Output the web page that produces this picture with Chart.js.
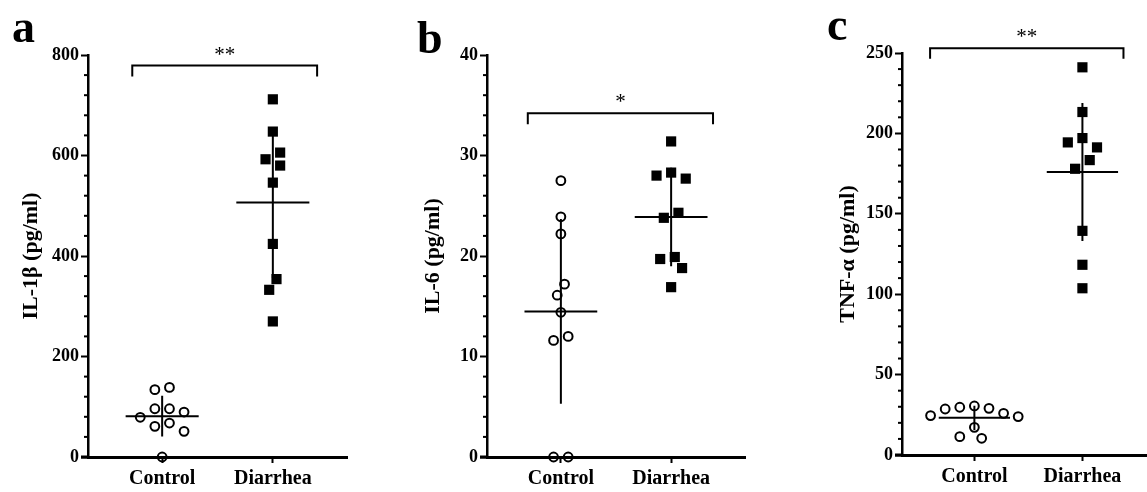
<!DOCTYPE html>
<html lang="en">
<head>
<meta charset="UTF-8">
<title>IL-1β, IL-6 and TNF-α</title>
<script src="https://cdn.jsdelivr.net/npm/chart.js"></script>
<style>
  html, body { margin: 0; padding: 0; background: #fff; }
  body { width: 1147px; height: 492px; position: relative; overflow: hidden; font-family: "Liberation Serif", "Times New Roman", serif; }
  .panel { position: absolute; top: 0; height: 492px; }
  .letter { position: absolute; font-weight: bold; font-size: 46px; line-height: 1; color: #000; }
</style>
</head>
<body>
<div class="panel" style="left:0"><canvas id="chartA" width="380" height="492"></canvas></div>
<div class="panel" style="left:380px"><canvas id="chartB" width="380" height="492"></canvas></div>
<div class="panel" style="left:760px"><canvas id="chartC" width="402" height="492"></canvas></div>
<div class="letter" style="left:12px;top:4px">a</div>
<div class="letter" style="left:417px;top:15px">b</div>
<div class="letter" style="left:827px;top:2px">c</div>

<script>
// groups on the x axis
const categories = ['Control', 'Diarrhea'];

// IL-1β (pg/ml)
const il1bControl  = [138.5, 134, 96, 96, 89.5, 79, 67.6, 61, 51, 0];
const il1bDiarrhea = [711.8, 647.6, 605.8, 592.5, 580, 546, 424, 354, 332.7, 269.8];

// IL-6 (pg/ml)
const il6Control  = [27.5, 23.9, 22.2, 17.2, 16.1, 14.4, 12.0, 11.6, 0, 0];
const il6Diarrhea = [31.4, 28.3, 28.0, 27.7, 24.3, 23.8, 19.9, 19.7, 18.8, 16.9];

// TNF-α (pg/ml)
const tnfControl  = [30.5, 29.7, 29.0, 28.6, 25.9, 24.5, 23.9, 17.2, 11.4, 10.4];
const tnfDiarrhea = [241.1, 213.3, 197.1, 194.4, 191.3, 183.4, 178.0, 139.4, 118.3, 103.7];

// y axis ranges / tick steps
const yMaxes     = [800, 40, 250];
const majorSteps = [200, 10, 50];
const minorSteps = [40, 2, 10];
const yTitles    = ['IL-1β (pg/ml)', 'IL-6 (pg/ml)', 'TNF-α (pg/ml)'];

// significance brackets: [x start, x end, bar level, leg end], label
const brackets = [
  { x0: 0.73, x1: 2.40, y: 779, yEnd: 757, text: '**' },
  { x0: 0.70, x1: 2.38, y: 34.2, yEnd: 33.1, text: '*' },
  { x0: 0.59, x1: 2.38, y: 253, yEnd: 246.5, text: '**' }
];

const X_MIN = 0.33, X_MAX = 2.67;
const HALF_STEP = 7.3;   // px, horizontal step of the dot spread
const MIN_GAP = 12.5;    // px, min distance between dot centres

const tickFont = { family: 'Liberation Serif', size: 18, weight: 'bold' };
const titleFont = { family: 'Liberation Serif', size: 22, weight: 'bold' };
const catFont = { family: 'Liberation Serif', size: 20, weight: 'bold' };

function mean(a) { return a.reduce((s, v) => s + v, 0) / a.length; }
function sd(a) {
  const m = mean(a);
  return Math.sqrt(a.reduce((s, v) => s + (v - m) * (v - m), 0) / (a.length - 1));
}

const decorations = {
  id: 'decorations',
  afterDraw(chart) {
    const { ctx, chartArea } = chart;
    const xs = chart.scales.x, ys = chart.scales.y;
    const spec = chart.options.plugins.decorations;
    ctx.save();
    ctx.strokeStyle = '#000';
    ctx.lineCap = 'butt';

    // minor ticks on y
    ctx.lineWidth = 2;
    const n = Math.round(spec.yMax / spec.minor);
    const every = Math.round(spec.major / spec.minor);
    for (let i = 0; i <= n; i++) {
      if (i % every === 0) continue;
      const py = ys.getPixelForValue(i * spec.minor);
      ctx.beginPath();
      ctx.moveTo(chartArea.left - 4, py);
      ctx.lineTo(chartArea.left, py);
      ctx.stroke();
    }

    // x axis stub left of y axis
    ctx.lineWidth = 3;
    ctx.beginPath();
    ctx.moveTo(chartArea.left - 7, chartArea.bottom);
    ctx.lineTo(chartArea.left + 1, chartArea.bottom);
    ctx.stroke();

    // mean ± SD
    ctx.lineWidth = 2;
    chart.data.datasets.forEach((ds, gi) => {
      const m = mean(ds.values), s = sd(ds.values);
      const cx = xs.getPixelForValue(gi + 1);
      ctx.beginPath();
      ctx.moveTo(xs.getPixelForValue(gi + 1 - 0.33), ys.getPixelForValue(m));
      ctx.lineTo(xs.getPixelForValue(gi + 1 + 0.33), ys.getPixelForValue(m));
      ctx.moveTo(cx, ys.getPixelForValue(Math.max(0, m - s)));
      ctx.lineTo(cx, ys.getPixelForValue(m + s));
      ctx.stroke();
    });

    // bracket + stars
    const b = spec.bracket;
    const bx0 = xs.getPixelForValue(b.x0), bx1 = xs.getPixelForValue(b.x1);
    const by = ys.getPixelForValue(b.y), byEnd = ys.getPixelForValue(b.yEnd);
    ctx.lineWidth = 2;
    ctx.beginPath();
    ctx.moveTo(bx0, byEnd);
    ctx.lineTo(bx0, by);
    ctx.lineTo(bx1, by);
    ctx.lineTo(bx1, byEnd);
    ctx.stroke();
    ctx.fillStyle = '#000';
    ctx.font = '21px "Liberation Serif"';
    ctx.textAlign = 'center';
    ctx.textBaseline = 'alphabetic';
    ctx.fillText(b.text, (bx0 + bx1) / 2, by - 5);
    ctx.restore();
  }
};

// sideways spread of overlapping dots, worked out in pixels from the chart's scales
function spread(vals, ys) {
  const order = vals.map((v, i) => i).sort((a, b) => vals[b] - vals[a]);
  const py = vals.map(v => ys.getPixelForValue(v));
  const offs = [];
  const placed = [];
  order.forEach(i => {
    for (let c = 0; c < 80; c++) {
      const dx = Math.ceil(c / 2) * (c % 2 ? -1 : 1) * HALF_STEP;
      if (placed.every(j => Math.hypot(offs[j] - dx, py[j] - py[i]) >= MIN_GAP)) {
        offs[i] = dx;
        placed.push(i);
        break;
      }
    }
  });
  // centre every cluster of vertically touching dots on the group line
  let start = 0;
  for (let k = 1; k <= order.length; k++) {
    if (k === order.length || py[order[k]] - py[order[k - 1]] >= MIN_GAP) {
      const grp = order.slice(start, k);
      const lo = Math.min(...grp.map(i => offs[i])), hi = Math.max(...grp.map(i => offs[i]));
      grp.forEach(i => { offs[i] -= (lo + hi) / 2; });
      start = k;
    }
  }
  return offs;
}

function makePanel(id, k, control, diarrhea, lay) {
  const chart = new Chart(document.getElementById(id), {
    type: 'scatter',
    data: {
      datasets: [
        {
          label: categories[0], values: control,
          data: control.map(v => ({ x: 1, y: v })),
          pointStyle: 'circle', pointRadius: 4.4, pointBorderWidth: 2,
          pointBackgroundColor: 'rgba(0,0,0,0)', pointBorderColor: '#000', clip: false
        },
        {
          label: categories[1], values: diarrhea,
          data: diarrhea.map(v => ({ x: 2, y: v })),
          pointStyle: 'rect', pointRadius: 7.2, pointBorderWidth: 0,
          pointBackgroundColor: '#000', pointBorderColor: '#000', clip: false
        }
      ]
    },
    options: {
      responsive: false,
      animation: false,
      events: [],
      layout: { padding: { left: 0, right: lay.padRight, top: lay.padTop, bottom: 0 } },
      plugins: {
        legend: { display: false },
        tooltip: { enabled: false },
        decorations: { yMax: yMaxes[k], major: majorSteps[k], minor: minorSteps[k], bracket: brackets[k] }
      },
      scales: {
        x: {
          type: 'linear', min: X_MIN, max: X_MAX,
          afterBuildTicks: s => { s.ticks = [{ value: 1 }, { value: 2 }]; },
          afterFit: s => { s.height = lay.xHeight; },
          ticks: { callback: v => categories[v - 1], font: catFont, color: '#000', padding: 4, maxRotation: 0, autoSkip: false },
          grid: { drawOnChartArea: false, tickLength: 6, tickWidth: 2, tickColor: '#000' },
          border: { width: 3, color: '#000' }
        },
        y: {
          min: 0, max: yMaxes[k],
          afterFit: s => { s.width = lay.yWidth; },
          ticks: { stepSize: majorSteps[k], font: tickFont, color: '#000', padding: 2 },
          grid: { drawOnChartArea: false, tickLength: 7, tickWidth: 2, tickColor: '#000' },
          border: { width: 2.5, color: '#000' },
          title: { display: true, text: yTitles[k], font: titleFont, color: '#000', padding: { top: lay.titleCenter - 13.2, bottom: 0 } }
        }
      }
    },
    plugins: [decorations]
  });

  const xs = chart.scales.x, ys = chart.scales.y;
  const pxPerUnit = xs.getPixelForValue(2) - xs.getPixelForValue(1);
  chart.data.datasets.forEach((ds, gi) => {
    const offs = spread(ds.values, ys);
    ds.data = ds.values.map((v, i) => ({ x: gi + 1 + offs[i] / pxPerUnit, y: v }));
  });
  chart.update('none');
  return chart;
}

makePanel('chartA', 0, il1bControl, il1bDiarrhea, { yWidth: 88, padRight: 33, padTop: 55, xHeight: 35, titleCenter: 31 });
makePanel('chartB', 1, il6Control, il6Diarrhea, { yWidth: 107, padRight: 15, padTop: 55, xHeight: 35, titleCenter: 53 });
makePanel('chartC', 2, tnfControl, tnfDiarrhea, { yWidth: 142, padRight: 1, padTop: 53, xHeight: 37, titleCenter: 88 });
</script>
</body>
</html>
